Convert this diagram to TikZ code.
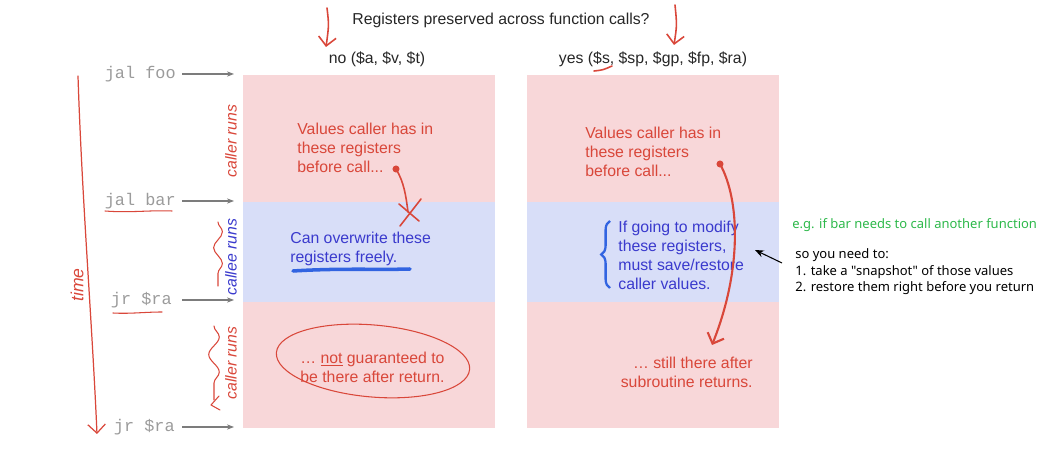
\documentclass[tikz,border=0pt]{standalone}
\usepackage{fontspec}
\setmainfont{Liberation Sans}
\setmonofont{Liberation Mono}
\newfontfamily\notefont{Noto Sans}
\usetikzlibrary{arrows.meta,decorations.pathmorphing,decorations.pathreplacing}

\definecolor{pinkband}{RGB}{248,215,217}
\definecolor{blueband}{RGB}{216,222,248}
\definecolor{inkred}{RGB}{217,71,58}
\definecolor{inkblue}{RGB}{58,58,205}
\definecolor{penblue}{RGB}{50,100,225}
\definecolor{notegreen}{RGB}{45,184,74}
\definecolor{codegray}{RGB}{155,155,155}

\begin{document}
\begin{tikzpicture}[
  x=0.02cm, y=-0.02cm,
  >=Latex,
  txt/.style={font=\fontsize{9}{10.8}\selectfont, inner sep=0pt, align=left},
  code/.style={font=\ttfamily\fontsize{9.6}{11}\selectfont, text=codegray, inner sep=0pt},
  runs/.style={rotate=90, font=\itshape\fontsize{9}{10}\selectfont, inner sep=0pt},
  note/.style={font=\notefont\fontsize{7.4}{9.6}\selectfont, inner sep=0pt, align=left},
  tick/.style={->, codegray!80!black, semithick, >={Stealth[length=4pt,width=3pt]}},
  pen/.style={inkred, line width=0.9pt, line cap=round, line join=round},
  barb/.style={-{Straight Barb[length=5pt,width=10pt]}}
]
\useasboundingbox (0,0) rectangle (1045,452);

% bands of the two panels
\fill[pinkband] (243,75) rectangle (495,202);
\fill[blueband] (243,202) rectangle (495,302);
\fill[pinkband] (243,302) rectangle (495,428);
\fill[pinkband] (527,75) rectangle (779,202);
\fill[blueband] (527,202) rectangle (779,302);
\fill[pinkband] (527,302) rectangle (779,428);

% headings
\node[txt, text=black!85] (title) at (501,20) {Registers preserved across function calls?};
\node[txt, text=black!85] (nohead) at (377,59) {no (\$a, \$v, \$t)};
\node[txt, text=black!85] (yeshead) at (653,59) {yes (\$s, \$sp, \$gp, \$fp, \$ra)};
\draw[pen, barb] (327,8) .. controls (329,25) .. (326,47);
\draw[pen, barb] (675,5) .. controls (677,25) .. (674,45);
\draw[pen] (594,71) .. controls (603,70) .. (612,66);

% instructions on the time line
\node[code, anchor=east] (foo) at (176,74) {jal foo};
\node[code, anchor=east] (bar) at (176,201) {jal bar};
\node[code, anchor=east] (ret1) at (172,300) {jr \$ra};
\node[code, anchor=east] (ret2) at (175,427) {jr \$ra};
\coordinate (tfoo) at (234,74);
\coordinate (tbar) at (234,201);
\coordinate (tret1) at (234,300);
\coordinate (tret2) at (234,427);
\draw[tick] (foo.east) ++(6,0) -- (tfoo);
\draw[tick] (bar.east) ++(6,0) -- (tbar);
\draw[tick] (ret1.east) ++(10,0) -- (tret1);
\draw[tick] (ret2.east) ++(7,0) -- (tret2);
\draw[pen, line width=0.6pt] (105,211) .. controls (130,213) and (150,210) .. (172,211);
\draw[pen, line width=0.6pt] (113,313) .. controls (130,314) and (145,312) .. (162,312);

% who runs
\node[runs, text=inkred] (run1) at (231,141) {caller runs};
\node[runs, text=inkblue] (run2) at (231,257) {callee runs};
\node[runs, text=inkred] (run3) at (231,363) {caller runs};
\draw[pen, line width=0.6pt, decorate, decoration={snake, amplitude=2.5pt, segment length=18pt}] (218,222) -- (218,286);
\draw[pen, line width=0.6pt, decorate, decoration={snake, amplitude=3pt, segment length=20pt}] (214,326) -- (214,400);
\draw[pen, line width=0.6pt] (219,396) -- (211,405) -- (220,410);

% time axis
\draw[pen, line width=0.7pt, barb] (78,76) .. controls (82,200) and (92,320) .. (97,434);
\node[runs, text=inkred, font=\itshape\fontsize{10}{12}\selectfont] (time) at (77,285) {time};

% left panel
\node[txt, text=inkred, anchor=west] (lval) at (297,148) {Values caller has in\\these registers\\before call...};
\node[txt, text=inkblue, anchor=west] (lover) at (290,249) {Can overwrite these\\registers freely.};
\node[txt, text=inkred, anchor=west] (lgone) at (300,367) {\ldots\ \underline{not} guaranteed to\\be there after return.};
\fill[inkred] (396,169) circle (2pt);
\coordinate (lcross) at (408,212);
\draw[pen] (396,169) .. controls (404,182) and (406,196) .. (lcross);
\draw[pen] (400,226) -- (421,199) (399,204) -- (419,221);
\draw[penblue, line width=2pt, line cap=round] (293,271) .. controls (340,268) and (380,270) .. (410,269);
\draw[inkred, line width=0.6pt, rotate around={-5:(373,361)}] (373,361) ellipse [x radius=1.94cm, y radius=0.72cm];

% right panel
\node[txt, text=inkred, anchor=west] (rval) at (585,152) {Values caller has in\\these registers\\before call...};
\node[txt, text=inkblue, anchor=west] (rsave) at (618,255) {If going to modify\\these registers,\\must save/restore\\caller values.};
\node[txt, text=inkred, anchor=east, align=right] (rkeep) at (753,372) {\ldots\ still there after\\subroutine returns.};
\fill[inkred] (720,164) circle (2pt);
\coordinate (rdown) at (712,345);
\draw[pen, line width=1.2pt, barb] (720,164) .. controls (740,200) and (742,270) .. (rdown);
\draw[penblue, line width=1.3pt, decorate, decoration={brace, amplitude=5pt}] (610,288) -- (610,221);

% side notes
\node[note, text=notegreen, anchor=west] (eg) at (792,225) {e.g. if bar needs to call another function};
\node[note, text=black, anchor=north west] (steps) at (795,248) {so you need to:\\1. take a "snapshot" of those values\\2. restore them right before you return};
\coordinate (stepsfrom) at (782,263);
\coordinate (stepsto) at (755,250);
\draw[->, black, semithick, >={Stealth[length=5pt,width=4pt]}] (stepsfrom) -- (stepsto);
\end{tikzpicture}
\end{document}
